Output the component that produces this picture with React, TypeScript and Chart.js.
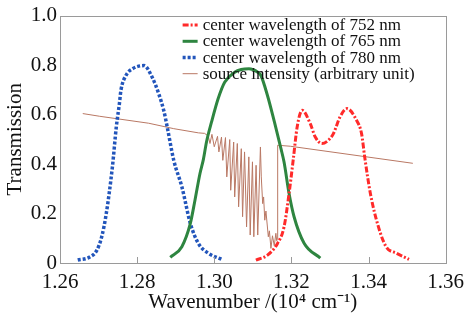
import React, { useEffect, useRef } from 'react';
import { Chart, registerables } from 'chart.js';

Chart.register(...registerables);

const xTicks = [1.26, 1.28, 1.3, 1.32, 1.34, 1.36];
const yTicks = [0, 0.2, 0.4, 0.6, 0.8, 1.0];
const xTitle = 'Wavenumber /(10\u2074 cm\u207B\u00B9)';
const yTitle = 'Transmission';

const labels = [
  'center wavelength of 752 nm',
  'center wavelength of 765 nm',
  'center wavelength of 780 nm',
  'source intensity (arbitrary unit)',
];

const x752 = [1.3108, 1.3138, 1.3164, 1.3181, 1.3194, 1.3205, 1.3215, 1.3228, 1.3249, 1.3262, 1.3279, 1.3295, 1.3309, 1.3326, 1.3344, 1.3369, 1.3382, 1.339, 1.3405, 1.3426, 1.3446, 1.3472, 1.3505];
const t752 = [0.012, 0.032, 0.079, 0.146, 0.281, 0.42, 0.55, 0.617, 0.563, 0.509, 0.483, 0.495, 0.523, 0.59, 0.624, 0.577, 0.523, 0.43, 0.28, 0.145, 0.065, 0.04, 0.015];

const x765 = [1.2886, 1.2916, 1.2938, 1.295, 1.2963, 1.2972, 1.298, 1.2993, 1.301, 1.3027, 1.3053, 1.307, 1.309, 1.3113, 1.3121, 1.3138, 1.3156, 1.3173, 1.3181, 1.3194, 1.3207, 1.3233, 1.3275];
const t765 = [0.023, 0.066, 0.16, 0.254, 0.362, 0.42, 0.49, 0.57, 0.664, 0.731, 0.771, 0.782, 0.785, 0.771, 0.758, 0.677, 0.57, 0.462, 0.408, 0.281, 0.187, 0.08, 0.02];

const x780 = [1.2646, 1.2677, 1.2695, 1.2708, 1.272, 1.2736, 1.2746, 1.2754, 1.2758, 1.2771, 1.2788, 1.2818, 1.2839, 1.2856, 1.2869, 1.2878, 1.2895, 1.2916, 1.2938, 1.2959, 1.2985, 1.3019];
const t780 = [0.012, 0.024, 0.05, 0.105, 0.2, 0.39, 0.55, 0.644, 0.698, 0.758, 0.785, 0.798, 0.751, 0.684, 0.617, 0.55, 0.415, 0.308, 0.16, 0.079, 0.039, 0.015];

const xSrc = [1.2659, 1.2703, 1.283, 1.2895, 1.2959, 1.2975, 1.298, 1.2983, 1.29889, 1.2994, 1.3, 1.30085, 1.3012, 1.30188, 1.30222, 1.30291, 1.30325, 1.30402, 1.30427, 1.30504, 1.3053, 1.30598, 1.30632, 1.30701, 1.30735, 1.30786, 1.30838, 1.30897, 1.30932, 1.30991, 1.31026, 1.31085, 1.31128, 1.31197, 1.3122, 1.31256, 1.3128, 1.3131, 1.3134, 1.31402, 1.3143, 1.3147, 1.3151, 1.31556, 1.31598, 1.3162, 1.31641, 1.31645, 1.3197, 1.3515];
const tSrc = [0.604, 0.593, 0.565, 0.543, 0.526, 0.524, 0.518, 0.523, 0.483, 0.52, 0.47, 0.512, 0.449, 0.509, 0.415, 0.507, 0.348, 0.499, 0.294, 0.489, 0.267, 0.483, 0.227, 0.462, 0.187, 0.449, 0.146, 0.429, 0.113, 0.409, 0.106, 0.395, 0.113, 0.469, 0.348, 0.24, 0.267, 0.173, 0.21, 0.106, 0.13, 0.059, 0.11, 0.07, 0.12, 0.09, 0.1, 0.476, 0.472, 0.403];

const FONT = "'Liberation Serif', 'Times New Roman', serif";

export default function App() {
  const ref = useRef<HTMLCanvasElement>(null);

  useEffect(() => {
    const pts = (xs: number[], ys: number[]) => xs.map((x, i) => ({ x, y: ys[i] }));

    const frame = {
      id: 'frame',
      afterDatasetsDraw(chart: any) {
        const { ctx, chartArea: a, scales } = chart;
        ctx.save();
        ctx.strokeStyle = '#9a9a9a';
        ctx.lineWidth = 1;
        ctx.setLineDash([]);
        ctx.strokeRect(Math.round(a.left) + 0.5, Math.round(a.top) + 0.5, Math.round(a.right - a.left), Math.round(a.bottom - a.top));
        xTicks.forEach((v) => {
          const px = Math.round(scales.x.getPixelForValue(v)) + 0.5;
          ctx.beginPath();
          ctx.moveTo(px, a.bottom);
          ctx.lineTo(px, a.bottom - 6);
          ctx.stroke();
        });
        const x0 = a.right - 263;
        chart.data.datasets.forEach((ds: any, i: number) => {
          const y = a.top + 9.5 + i * 16.2;
          ctx.save();
          ctx.strokeStyle = ds.borderColor;
          ctx.lineWidth = ds.borderWidth;
          ctx.setLineDash(ds.borderDash || []);
          ctx.beginPath();
          ctx.moveTo(x0, y);
          ctx.lineTo(x0 + 15, y);
          ctx.stroke();
          ctx.restore();
          ctx.fillStyle = '#111';
          ctx.font = `17px ${FONT}`;
          ctx.textBaseline = 'alphabetic';
          ctx.textAlign = 'left';
          ctx.fillText(ds.label, x0 + 20, y + 5);
        });
        ctx.restore();
      },
    };

    const chart = new Chart(ref.current as HTMLCanvasElement, {
      type: 'line',
      data: {
        datasets: [
          {
            label: labels[0],
            data: pts(x752, t752),
            borderColor: '#ff2a2a',
            borderWidth: 3,
            borderDash: [6, 2, 2, 2],
            cubicInterpolationMode: 'monotone',
            pointRadius: 0,
            fill: false,
          },
          {
            label: labels[1],
            data: pts(x765, t765),
            borderColor: '#2e8540',
            borderWidth: 3,
            cubicInterpolationMode: 'monotone',
            pointRadius: 0,
            fill: false,
          },
          {
            label: labels[2],
            data: pts(x780, t780),
            borderColor: '#2255bb',
            borderWidth: 3.5,
            borderDash: [3, 2],
            cubicInterpolationMode: 'monotone',
            pointRadius: 0,
            fill: false,
          },
          {
            label: labels[3],
            data: pts(xSrc, tSrc),
            borderColor: 'rgb(185,120,100)',
            borderWidth: 1,
            tension: 0,
            pointRadius: 0,
            fill: false,
          },
        ],
      } as any,
      options: {
        responsive: false,
        animation: false,
        devicePixelRatio: 1,
        layout: { padding: { top: 15, right: 21, left: 0, bottom: 0 } },
        plugins: { legend: { display: false }, tooltip: { enabled: false } },
        scales: {
          x: {
            type: 'linear',
            min: 1.26,
            max: 1.36,
            afterBuildTicks: (s: any) => {
              s.ticks = xTicks.map((v) => ({ value: v }));
            },
            afterFit: (s: any) => {
              s.height = 57;
            },
            grid: { display: false, drawTicks: false },
            border: { display: false },
            ticks: {
              color: '#111',
              font: { family: FONT, size: 21 },
              padding: 7,
              maxRotation: 0,
              autoSkip: false,
              callback: (v: any) => Number(v).toFixed(2),
            },
            title: {
              display: true,
              text: xTitle,
              color: '#111',
              font: { family: FONT, size: 21 },
              padding: { top: 0, bottom: 5 },
            },
          },
          y: {
            type: 'linear',
            min: 0,
            max: 1,
            afterBuildTicks: (s: any) => {
              s.ticks = yTicks.map((v) => ({ value: v }));
            },
            afterFit: (s: any) => {
              s.width = 60;
            },
            grid: { display: false, drawTicks: false },
            border: { display: false },
            ticks: {
              color: '#111',
              font: { family: FONT, size: 21 },
              padding: 3,
              autoSkip: false,
              callback: (v: any) => (Number(v) === 0 ? '0' : Number(v).toFixed(1)),
            },
            title: {
              display: true,
              text: yTitle,
              color: '#111',
              font: { family: FONT, size: 21 },
              padding: { top: 3, bottom: 0 },
            },
          },
        },
      } as any,
      plugins: [frame],
    });
    return () => chart.destroy();
  }, []);

  return (
    <div style={{ position: 'fixed', left: 0, top: 0, width: 471, height: 320, background: '#fff' }}>
      <canvas ref={ref} width={471} height={320} style={{ width: 471, height: 320, display: 'block' }} />
    </div>
  );
}
